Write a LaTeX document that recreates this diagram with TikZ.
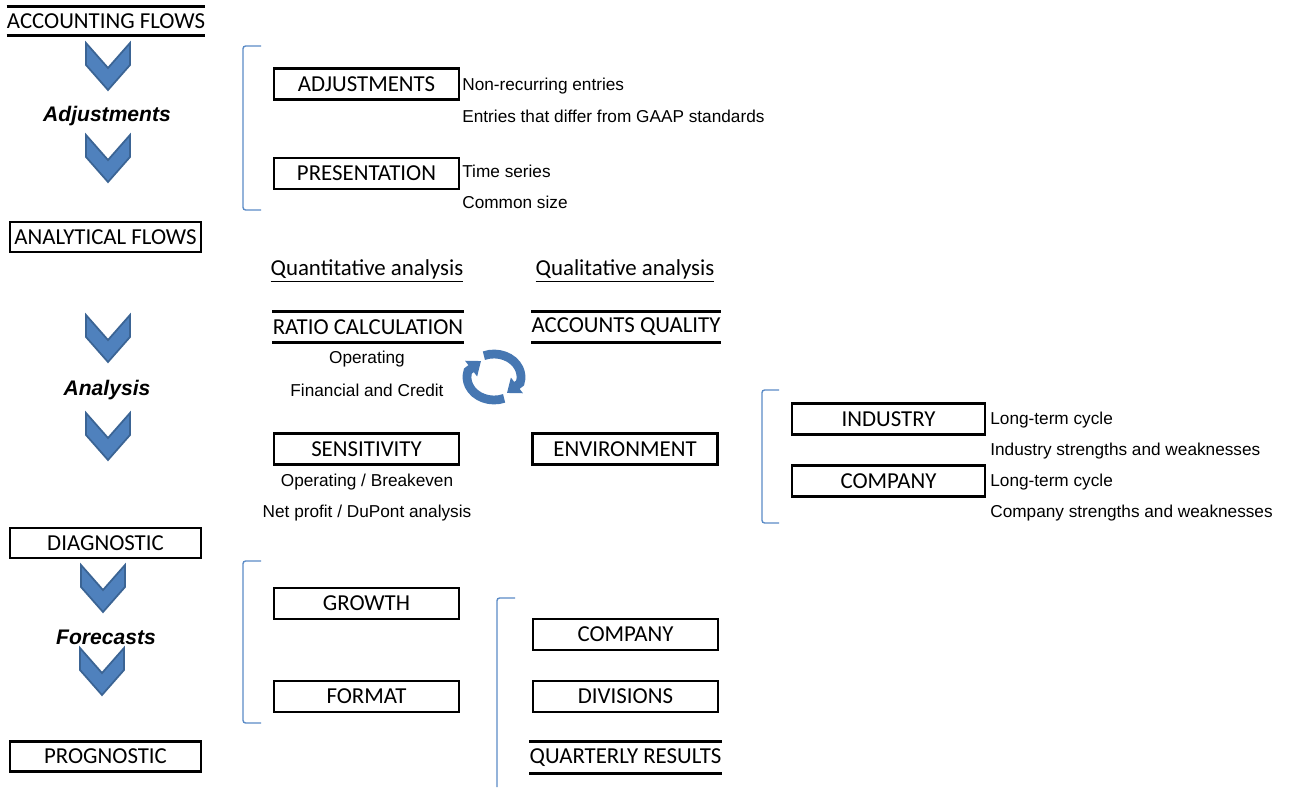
\documentclass[tikz,border=0pt]{standalone}
\usepackage{fontspec}
\setmainfont{Carlito}
\newfontfamily\arialfont{Liberation Sans}
\usetikzlibrary{arrows.meta}

\definecolor{chevfill}{HTML}{4F81BD}
\definecolor{chevline}{HTML}{3B6494}
\definecolor{cycblue}{HTML}{4677B2}
\definecolor{brackblue}{HTML}{5B8BC6}

\begin{document}
\begin{tikzpicture}[x=0.02cm, y=-0.02cm,
    lbl/.style={font=\fontsize{13}{15}\selectfont, inner sep=0pt},
    stagebox/.style={lbl, draw, line width=1.6pt, minimum width=3.82cm, minimum height=0.6cm},
    itembox/.style={lbl, draw, line width=1.6pt, minimum width=3.7cm, minimum height=0.62cm},
    ruled/.style={lbl, minimum width=3.7cm, minimum height=0.6cm},
    hrule/.style={line width=1.6pt},
    note/.style={font=\arialfont\fontsize{9.8}{11}\selectfont, inner sep=0pt},
    phase/.style={font=\arialfont\bfseries\itshape\fontsize{12}{14}\selectfont, inner sep=0pt},
    bracket/.style={draw=brackblue, line width=0.8pt, rounded corners=1.5pt},
    chev/.style={fill=chevfill, draw=chevline, line width=1pt, line join=miter},
    cycarrow/.style={cycblue, line width=5pt, -{Triangle[length=0.25cm, width=0.38cm]}}
]
    \useasboundingbox (0,0) rectangle (1293,787);

    % Left column
    \node[ruled, minimum width=3.8cm, minimum height=0.56cm] (acc) at (106,21) {ACCOUNTING FLOWS};
    \draw[hrule] (acc.north west) -- (acc.north east);
    \draw[hrule] (acc.south west) -- (acc.south east);
    \node[phase] (adjlbl) at (107,116) {Adjustments};
    \node[stagebox] (ana) at (105.5,237) {ANALYTICAL FLOWS};
    \node[phase] (analbl) at (107,390) {Analysis};
    \node[stagebox] (diag) at (105.5,543) {DIAGNOSTIC};
    \node[phase] (forlbl) at (106,637) {Forecasts};
    \node[stagebox] (prog) at (105.5,756.5) {PROGNOSTIC};

    % Chevrons
    \foreach \cx/\cy in {108/43, 108/135, 108/315, 108/413, 103/565, 102/648}
        \draw[chev] (\cx-22,\cy) -- (\cx,\cy+25) -- (\cx+22,\cy) -- (\cx+22,\cy+22)
            -- (\cx,\cy+47) -- (\cx-22,\cy+22) -- cycle;

    % Adjustments
    \draw[bracket] (261,46) -- (243,46) -- (243,210) -- (261,210);
    \node[itembox] (adj) at (366.5,84) {ADJUSTMENTS};
    \node[itembox] (pres) at (366.5,173.5) {PRESENTATION};
    \node[note, anchor=west] (n1) at (462,86) {Non-recurring entries};
    \node[note, anchor=west] (n2) at (462,116) {Entries that differ from GAAP standards};
    \node[note, anchor=west] (n3) at (462,171) {Time series};
    \node[note, anchor=west] (n4) at (462,202) {Common size};

    % Analysis
    \node[lbl] (quant) at (367,271) {\underline{Quantitative analysis}};
    \node[lbl] (qual) at (625,271) {\underline{Qualitative analysis}};
    \node[ruled] (ratio) at (368,327) {RATIO CALCULATION};
    \draw[hrule] (ratio.north west) -- (ratio.north east);
    \draw[hrule] (ratio.south west) -- (ratio.south east);
    \node[ruled] (quality) at (626,327) {ACCOUNTS QUALITY};
    \draw[hrule] (quality.north west) -- (quality.north east);
    \draw[hrule] (quality.south west) -- (quality.south east);
    \node[note] (r1) at (367,359) {Operating};
    \node[note] (r2) at (367,390) {Financial and Credit};
    \node[itembox] (sens) at (366.5,449) {SENSITIVITY};
    \node[itembox] (env) at (625,449) {ENVIRONMENT};
    \node[note] (s1) at (367,482) {Operating / Breakeven};
    \node[note] (s2) at (367,513) {Net profit / DuPont analysis};

    % Cycle
    \coordinate (cyc) at (494,377);
    \coordinate (cyctipa) at (507,393);
    \coordinate (cyctipb) at (481,361);
    \draw[cycarrow] (cyc) ++(-112:27 and 23) arc[start angle=-112, end angle=15, x radius=27, y radius=23] -- (cyctipa);
    \draw[cycarrow] (cyc) ++(68:27 and 23) arc[start angle=68, end angle=195, x radius=27, y radius=23] -- (cyctipb);

    % Environment
    \draw[bracket] (779,390) -- (762,390) -- (762,523) -- (779,523);
    \node[itembox, minimum width=3.86cm] (ind) at (888.5,419) {INDUSTRY};
    \node[itembox, minimum width=3.86cm] (comp) at (888.5,481) {COMPANY};
    \node[note, anchor=west] (e1) at (990,420) {Long-term cycle};
    \node[note, anchor=west] (e2) at (990,451) {Industry strengths and weaknesses};
    \node[note, anchor=west] (e3) at (990,482) {Long-term cycle};
    \node[note, anchor=west] (e4) at (990,513) {Company strengths and weaknesses};

    % Forecasts
    \draw[bracket] (261,561) -- (243,561) -- (243,723) -- (261,723);
    \node[itembox] (growth) at (366.5,603.5) {GROWTH};
    \node[itembox] (format) at (366.5,696.5) {FORMAT};
    \draw[bracket] (515,598) -- (497,598) -- (497,787);
    \node[itembox] (fcomp) at (625.5,634.5) {COMPANY};
    \node[itembox] (div) at (625.5,696.5) {DIVISIONS};
    \node[ruled, minimum height=0.62cm] (qres) at (625.5,757.5) {QUARTERLY RESULTS};
    \draw[hrule] (qres.north west) -- (qres.north east);
    \draw[hrule] (qres.south west) -- (qres.south east);
\end{tikzpicture}
\end{document}
